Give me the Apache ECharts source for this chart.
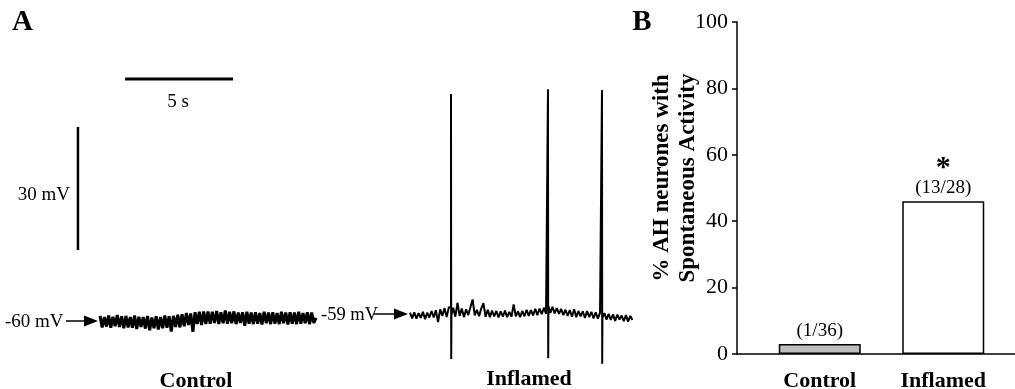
<!DOCTYPE html>
<html>
<head>
<meta charset="utf-8">
<script src="https://cdn.jsdelivr.net/npm/echarts@6/dist/echarts.min.js"></script>
<style>html,body{margin:0;padding:0;background:#fff}#c{width:1015px;height:389px}</style>
</head>
<body>
<div id="c"></div>
<script>
// ---------- Panel A: membrane potential traces (mV vs s) ----------
const ctrlStart = 0, ctrlStep = 0.1;
const ctrlTrace = [
-59.0,-61.8,-59.3,-61.6,-58.9,-61.9,-59.2,-61.5,-58.8,-61.7,
-59.1,-62.0,-59.0,-61.8,-59.3,-61.9,-58.9,-62.2,-59.2,-61.7,
-59.3,-62.1,-59.0,-62.5,-59.4,-62.0,-59.1,-62.3,-59.3,-62.0,
-58.9,-61.9,-59.1,-62.8,-59.0,-61.7,-58.7,-61.8,-58.6,-61.5,
-58.3,-61.2,-58.4,-62.9,-58.1,-61.0,-58.0,-61.2,-57.9,-61.0,
-57.9,-60.9,-58.0,-60.7,-57.8,-61.0,-58.1,-60.8,-57.7,-60.9,
-58.0,-60.8,-57.9,-61.0,-58.2,-60.7,-58.1,-61.4,-58.0,-60.9,
-58.2,-61.0,-58.1,-60.9,-58.3,-61.1,-58.0,-60.8,-58.2,-61.0,
-58.1,-60.9,-58.3,-61.0,-58.0,-60.8,-58.2,-61.1,-58.1,-60.9,
-58.2,-61.0,-58.0,-60.9,-58.3,-60.8,-58.1,-61.0,-58.2,-60.7,
-59.5];
const inflStart = 14.35, inflStep = 0.1;
const inflTrace = [
-58.2,-59.6,-58.1,-59.7,-58.3,-59.5,-58.0,-59.8,-58.2,-59.4,
-57.8,-59.4,-57.6,-60.5,-57.4,-59.0,-57.1,-59.3,-56.9,-58.8,
-57.0,-59.2,-55.8,-59.0,-57.2,-59.3,-57.4,-58.8,-56.9,-55.0,
-58.9,-57.5,-59.1,-57.2,-55.9,-59.2,-57.5,-59.3,-57.7,-59.1,
-57.8,-59.4,-57.9,-59.2,-57.7,-59.3,-58.0,-59.2,-56.2,-59.1,
-57.9,-59.3,-57.8,-59.1,-57.5,-59.0,-57.6,-58.9,-57.3,-58.8,
-57.2,-58.6,-57.0,-58.5,-56.6,-58.3,-56.8,-58.4,-57.1,-58.5,
-57.3,-58.8,-57.5,-59.0,-57.6,-59.2,-57.4,-59.3,-57.8,-59.1,
-57.9,-59.5,-57.8,-59.3,-58.0,-59.6,-58.1,-59.7,-58.2,-59.4,
-58.3,-59.9,-58.5,-60.0,-58.6,-60.2,-58.7,-59.9,-58.9,-60.3,
-58.8,-60.4,-59.0,-60.0];
const spikeTimes = [16.25, 20.74, 23.24];
const spikePeaks = [-4.9, -3.7, -3.9];
const spikeTroughs = [-69.5, -69.3, -70.7];
// scale bars: 5 s and 30 mV
const timeBar = [[1.16, -1.2], [6.16, -1.2]];
const voltBar = [[-1.02, -12.93], [-1.02, -42.93]];

// ---------- Panel B: bar chart ----------
const categories = ['Control', 'Inflamed'];
const percentActive = [3, 46];
const countLabels = ['(1/36)', '(13/28)'];
const signif = ['', '*'];
const yTicks = [0, 20, 40, 60, 80, 100];

const FONT = '"Liberation Serif", "Times New Roman", serif';

function buildTrace(start, step, vals, sT, sP, sTr) {
  const out = [];
  let prevT = -Infinity, prevV = vals[0];
  vals.forEach((v, i) => {
    const t = start + i * step;
    sT.forEach((ts, k) => {
      if (ts > prevT && ts <= t + 1e-9) {
        out.push([ts, prevV], [ts, sP[k]], [ts + 0.01, sTr[k]], [ts + 0.02, v]);
      }
    });
    out.push([t, v]);
    prevT = t; prevV = v;
  });
  return out;
}
const ctrlData = buildTrace(ctrlStart, ctrlStep, ctrlTrace, [], [], []);
const inflData = buildTrace(inflStart, inflStep, inflTrace, spikeTimes, spikePeaks, spikeTroughs);

const chart = echarts.init(document.getElementById('c'), null, {renderer: 'canvas'});

const txt = (x, y, text, size, bold, align) => ({
  type: 'text', x: x, y: y, silent: true,
  style: {text: text, font: (bold ? 'bold ' : '') + size + 'px ' + FONT, fill: '#000',
          align: align || 'center', verticalAlign: 'middle'}
});
const arrow = (x1, x2, y) => ([
  {type: 'line', silent: true, shape: {x1: x1, y1: y, x2: x2 - 10, y2: y}, style: {stroke: '#000', lineWidth: 1.5}},
  {type: 'polygon', silent: true, shape: {points: [[x2 - 14, y - 5.5], [x2, y], [x2 - 14, y + 5.5]]}, style: {fill: '#000'}}
]);

const option = {
  backgroundColor: '#fff',
  animation: false,
  grid: [
    {left: 13.6, top: 74, width: 626.4, height: 295.2, containLabel: false, outerBoundsMode: 'none'},
    {left: 737, top: 22, width: 278, height: 332, containLabel: false, outerBoundsMode: 'none'},
    {left: 758, top: 22, width: 247, height: 332, containLabel: false, outerBoundsMode: 'none'}
  ],
  xAxis: [
    {gridIndex: 0, type: 'value', min: -4, max: 25, show: false},
    {gridIndex: 1, type: 'value', min: 0, max: 1, axisLine: {show: true, onZero: false, lineStyle: {color: '#000', width: 1.5}},
     axisTick: {show: false}, axisLabel: {show: false}, splitLine: {show: false}},
    {gridIndex: 2, type: 'category', data: categories, axisLine: {show: false}, axisTick: {show: false},
     axisLabel: {fontFamily: FONT, fontSize: 22, fontWeight: 'bold', color: '#000', margin: 16}}
  ],
  yAxis: [
    {gridIndex: 0, type: 'value', min: -72, max: 0, show: false},
    {gridIndex: 1, type: 'value', min: 0, max: 100, interval: 20,
     axisLine: {show: true, lineStyle: {color: '#000', width: 1.5}},
     axisTick: {show: true, length: 5, lineStyle: {color: '#000', width: 1.5}},
     axisLabel: {fontFamily: FONT, fontSize: 22, color: '#000', margin: 9,
                 formatter: v => yTicks.indexOf(v) >= 0 ? String(v) : ''},
     splitLine: {show: false}},
    {gridIndex: 2, type: 'value', min: 0, max: 100, show: false}
  ],
  series: [
    {type: 'line', xAxisIndex: 0, yAxisIndex: 0, data: ctrlData, symbol: 'none', lineStyle: {color: '#000', width: 3, join: 'bevel'}},
    {type: 'line', xAxisIndex: 0, yAxisIndex: 0, data: inflData, symbol: 'none', lineStyle: {color: '#000', width: 2, join: 'bevel'}},
    {type: 'line', xAxisIndex: 0, yAxisIndex: 0, data: timeBar, symbol: 'none', lineStyle: {color: '#000', width: 3}},
    {type: 'line', xAxisIndex: 0, yAxisIndex: 0, data: voltBar, symbol: 'none', lineStyle: {color: '#000', width: 2.5}},
    {type: 'bar', xAxisIndex: 2, yAxisIndex: 2, barWidth: 82,
     data: percentActive.map((v, i) => ({
       value: v,
       itemStyle: {color: i === 0 ? '#bdbdbd' : '#fff', borderColor: '#000', borderWidth: 1.5}
     })),
     label: {show: true, position: 'top', distance: 3, color: '#000',
       formatter: p => (signif[p.dataIndex] ? '{s|' + signif[p.dataIndex] + '}\n' : '') + '{c|' + countLabels[p.dataIndex] + '}',
       rich: {
         s: {fontFamily: FONT, fontSize: 30, fontWeight: 'bold', color: '#000', lineHeight: 18, align: 'center'},
         c: {fontFamily: FONT, fontSize: 19, color: '#000', lineHeight: 21, align: 'center'}
       }}
    }
  ],
  graphic: [
    txt(22.5, 23, 'A', 29, true),
    txt(642, 23, 'B', 29, true),
    txt(178, 102, '5 s', 19, false),
    txt(70, 195, '30 mV', 19, false, 'right'),
    txt(5, 322, '-60 mV', 19, false, 'left'),
    ...arrow(66, 98, 321),
    txt(321, 315, '-59 mV', 18.5, false, 'left'),
    ...arrow(374, 408, 314),
    txt(196, 381, 'Control', 22, true),
    txt(529, 379, 'Inflamed', 22, true),
    {type: 'text', x: 675, y: 178, rotation: Math.PI / 2, silent: true,
     style: {text: '% AH neurones with\nSpontaneous Activity', font: 'bold 23px ' + FONT, fill: '#000',
             align: 'center', verticalAlign: 'middle', lineHeight: 26}}
  ]
};
chart.setOption(option);
</script>
</body>
</html>
